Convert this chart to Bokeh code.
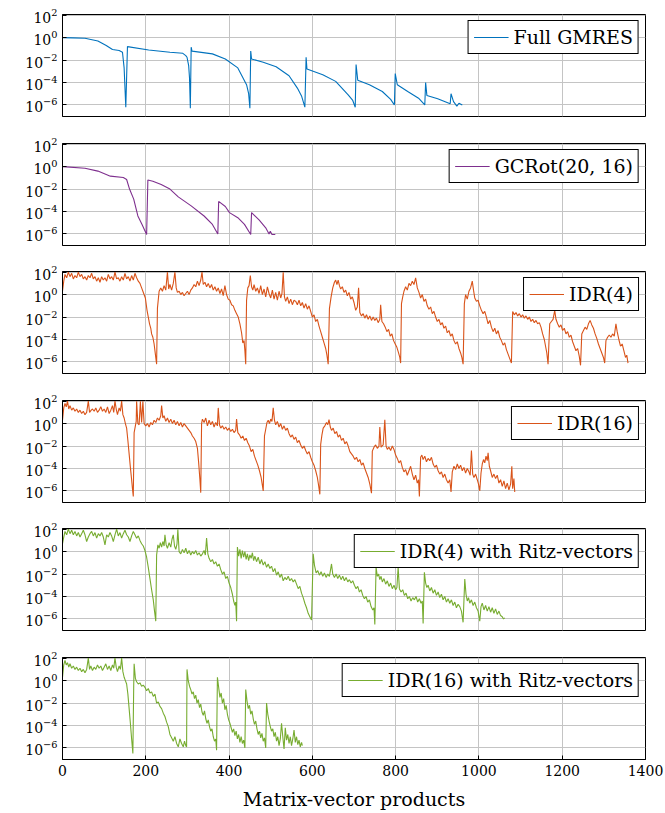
from bokeh.plotting import figure
from bokeh.models import Range1d, FixedTicker
from bokeh.layouts import column
from bokeh.embed import file_html
from bokeh.resources import INLINE

# ---------------- data (x = matrix-vector products, value = log10 of residual) ----------------
X_TICKS = [0, 200, 400, 600, 800, 1000, 1200, 1400]
Y_TICKS = [1e-6, 1e-4, 1e-2, 1e0, 1e2]

LABELS = ["Full GMRES", "GCRot(20, 16)", "IDR(4)", "IDR(16)",
          "IDR(4) with Ritz-vectors", "IDR(16) with Ritz-vectors"]
COLORS = ["#0072BD", "#7E2F8E", "#D95319", "#D95319", "#77AC30", "#77AC30"]

gmres = [(0, 0.0), (25, -0.02), (54, -0.06), (85, -0.3), (105, -0.7), (120, -1.06), (136, -1.15), (144, -1.3), (148, -2.7), (152, -6.2),
         (156, -0.8), (207, -1.1), (258, -1.3), (289, -1.4), (296, -1.6), (299, -1.75), (303, -2.5), (305, -3.6), (307, -6.3),
         (309, -0.85), (311, -1.2), (360, -1.45), (391, -1.9), (421, -2.7), (442, -4.2), (447, -5.0), (450, -6.3),
         (452, -1.2), (454, -1.9), (482, -2.2), (513, -2.6), (544, -3.4), (564, -4.5), (574, -5.2), (582, -6.2),
         (585, -1.75), (587, -2.8), (625, -3.3), (656, -3.9), (686, -5.1), (697, -5.6), (703, -6.2),
         (705, -2.4), (709, -3.8), (737, -4.2), (768, -4.8), (788, -5.5), (797, -6.0),
         (799, -3.2), (804, -4.2), (829, -4.8), (855, -5.4), (870, -6.0),
         (872, -4.0), (875, -5.15), (901, -5.45), (931, -5.9),
         (933, -5.0), (939, -5.7), (947, -6.1), (952, -5.85), (960, -6.0)]

gcrot = [(0, 0.0), (54, -0.15), (85, -0.4), (115, -0.85), (146, -0.97), (154, -1.15), (161, -2.0), (171, -2.9), (181, -4.4), (191, -5.15), (202, -6.05),
         (205, -1.2), (217, -1.3), (237, -1.6), (258, -2.0), (278, -2.7), (309, -3.5), (340, -4.4), (360, -5.15), (373, -6.0),
         (375, -3.1), (391, -3.55), (401, -4.1), (421, -4.55), (437, -5.15), (452, -6.05),
         (454, -4.1), (472, -4.75), (488, -5.45), (496, -6.0), (499, -5.75), (503, -6.05), (511, -6.05)]

idr4 = [(0, 0.3), (3, 1.2), (6, 1.8), (10, 1.5), (14, 2.0), (18, 1.6), (22, 1.9), (26, 1.4), (30, 1.7), (34, 1.5), (38, 2.0), (42, 1.6),
        (46, 1.8), (50, 1.4), (54, 1.6), (58, 1.3), (62, 1.7), (66, 1.5), (70, 1.9), (74, 1.4), (78, 1.6), (82, 1.2), (86, 1.5), (90, 1.1),
        (94, 1.6), (98, 1.3), (102, 1.5), (106, 1.2), (110, 1.8), (114, 1.4), (118, 1.6), (122, 1.3), (126, 2.0), (130, 1.4), (134, 1.5),
        (138, 1.2), (142, 1.6), (146, 1.3), (150, 1.9), (154, 1.4), (158, 1.6), (162, 1.2), (166, 1.7), (170, 1.3), (174, 1.9), (178, 1.5),
        (182, 1.2), (186, 1.0), (190, 0.6), (193, 0.3), (197, -0.1), (199, -0.3), (203, -1.4), (206, -2.0), (209, -2.6), (212, -3.0),
        (214, -3.5), (217, -3.8), (220, -4.4), (223, -5.3), (226, -6.2),
        (228, -1.2), (232, 0.3), (236, 0.6), (240, 0.3), (244, 0.8), (248, 0.4), (252, 2.0), (255, 0.5), (258, 0.9), (262, 0.4), (266, 1.0),
        (270, 2.0), (273, 0.6), (276, 0.2), (280, 0.3), (284, 0.0), (288, 0.2), (292, -0.1), (296, 0.1), (300, 0.3), (304, 0.0), (308, 0.4),
        (312, 0.6), (316, 0.9), (320, 0.7), (324, 1.2), (328, 0.8), (332, 1.3), (335, 2.0), (338, 0.9), (342, 1.1), (346, 0.7), (350, 1.0),
        (354, 0.6), (358, 0.9), (362, 0.4), (366, 0.7), (370, 0.3), (374, 0.6), (378, 0.1), (382, 0.5), (386, -0.1), (390, 0.8), (394, 0.0),
        (398, -0.4), (402, -0.5), (406, -0.9), (410, -1.0), (414, -1.4), (418, -1.7), (422, -2.0), (426, -2.6), (430, -3.4), (433, -4.3),
        (436, -4.1), (438, -5.0), (440, -6.2),
        (442, -0.5), (445, 0.6), (448, 0.8), (451, 1.7), (454, 0.7), (457, 0.4), (460, 0.9), (464, 0.3), (468, 0.6), (472, 0.1), (476, 0.8),
        (480, 0.0), (484, 0.5), (488, -0.2), (492, 0.7), (496, 0.1), (500, -0.3), (504, 0.4), (508, -0.4), (512, 0.2), (516, -0.5), (520, 0.3),
        (524, -0.3), (527, 0.1), (530, 2.0), (533, -0.2), (536, -0.6), (540, -0.2), (544, -0.8), (548, -0.4), (552, -0.9), (556, -0.5),
        (560, -0.6), (564, -0.9), (568, -0.5), (572, -1.0), (576, -0.7), (580, -1.2), (584, -0.8), (588, -1.3), (592, -1.0), (596, -1.5),
        (600, -2.0), (604, -1.8), (608, -2.4), (612, -2.2), (616, -2.8), (620, -3.3), (624, -3.8), (628, -4.3), (632, -4.8), (635, -5.4),
        (638, -6.2),
        (641, -1.25), (645, -0.2), (649, 0.6), (653, 1.1), (656, 1.3), (659, 0.9), (662, 1.3), (665, 0.8), (668, 0.5), (672, 0.7), (676, 0.2),
        (680, 0.4), (684, -0.1), (688, 0.2), (692, -0.4), (696, -0.2), (700, -0.7), (704, -1.4), (708, -1.1), (711, 0.6), (714, -1.6),
        (718, -1.9), (722, -1.7), (726, -2.1), (730, -1.8), (734, -2.2), (738, -1.9), (742, -2.3), (746, -2.0), (750, -2.3), (754, -2.1),
        (758, -2.5), (762, -2.2), (764, -0.9), (767, -2.4), (771, -2.6), (775, -2.9), (779, -3.3), (783, -3.1), (787, -3.7), (791, -3.5),
        (795, -4.1), (799, -4.4), (803, -4.7), (807, -5.2), (810, -5.6), (812, -6.1),
        (814, -0.8), (817, -0.2), (820, 0.3), (824, 0.7), (828, 0.4), (832, 1.0), (836, 0.8), (840, 1.2), (844, 0.9), (848, 1.5), (852, 0.6),
        (856, 0.2), (860, -0.3), (864, 0.0), (868, -0.6), (872, -0.4), (876, -1.0), (880, -1.3), (884, -1.1), (888, -1.7), (892, -1.5),
        (896, -2.0), (900, -2.4), (904, -2.2), (908, -2.7), (912, -2.5), (916, -3.0), (920, -2.8), (924, -3.4), (928, -3.2), (932, -3.7),
        (936, -3.5), (940, -4.1), (944, -4.4), (948, -4.2), (952, -4.8), (956, -5.2), (959, -5.6), (962, -6.2),
        (965, -0.8), (968, 0.0), (972, -0.4), (976, 0.3), (980, 0.6), (984, 1.2), (987, 0.4), (990, -0.3), (994, -0.6), (998, -0.5),
        (1002, -1.0), (1006, -1.4), (1010, -1.7), (1014, -1.5), (1018, -2.0), (1022, -2.6), (1026, -2.3), (1030, -2.9), (1034, -3.3),
        (1038, -3.0), (1042, -3.5), (1046, -3.2), (1050, -3.8), (1054, -4.1), (1058, -4.5), (1062, -4.3), (1066, -4.9), (1070, -5.3),
        (1074, -5.7), (1078, -6.1),
        (1081, -1.5), (1085, -1.8), (1089, -1.6), (1093, -1.9), (1097, -1.7), (1101, -2.0), (1105, -1.8), (1109, -2.1), (1113, -1.9),
        (1117, -2.2), (1121, -2.0), (1125, -2.4), (1129, -2.2), (1133, -2.5), (1137, -2.3), (1141, -2.6), (1145, -2.5), (1149, -2.9),
        (1153, -3.5), (1157, -4.0), (1160, -4.6), (1163, -5.2), (1166, -6.2),
        (1170, -2.6), (1174, -2.4), (1178, -2.2), (1182, -1.4), (1185, -2.2), (1189, -2.6), (1193, -2.9), (1197, -2.7), (1201, -3.2),
        (1205, -3.0), (1209, -3.5), (1213, -3.3), (1217, -3.8), (1221, -3.6), (1225, -4.2), (1229, -4.6), (1233, -5.0), (1237, -4.8),
        (1241, -5.5), (1244, -6.3),
        (1247, -3.5), (1251, -3.2), (1255, -2.9), (1259, -3.1), (1263, -2.6), (1267, -2.3), (1271, -2.7), (1275, -3.0), (1279, -3.5),
        (1283, -3.9), (1287, -4.4), (1291, -4.8), (1295, -5.2), (1299, -5.6), (1302, -6.1),
        (1305, -4.1), (1309, -3.8), (1313, -3.6), (1317, -3.8), (1321, -3.5), (1325, -3.7), (1329, -2.6), (1332, -3.3), (1336, -4.0),
        (1340, -4.6), (1344, -4.4), (1348, -5.0), (1352, -5.6), (1355, -5.4), (1358, -6.1)]

idr16 = [(0, 0.3), (3, 1.4), (6, 1.8), (9, 1.5), (12, 2.0), (15, 1.3), (18, 1.6), (22, 1.2), (26, 1.4), (30, 1.1), (34, 1.3), (38, 1.0),
         (42, 1.2), (46, 0.9), (50, 1.1), (54, 0.8), (58, 1.0), (62, 2.0), (65, 1.0), (69, 1.2), (72, 1.3), (76, 1.1), (80, 1.4), (84, 1.0),
         (88, 1.2), (92, 1.5), (96, 1.1), (100, 1.3), (104, 1.0), (108, 1.5), (112, 0.9), (116, 1.2), (120, 1.6), (123, 1.0), (126, 2.0),
         (129, 1.3), (132, 0.8), (136, 1.4), (139, 1.1), (142, 2.0), (145, 0.8), (148, 0.5), (151, 0.0), (154, -0.4), (157, -1.5),
         (160, -2.7), (163, -3.9), (166, -5.0), (168, -5.8), (170, -6.5),
         (172, -0.8), (175, -0.2), (177, 0.2), (178, 2.0), (181, 0.0), (184, -0.1), (187, 2.0), (190, 0.1), (193, 2.0), (196, 0.0),
         (200, -0.2), (204, 0.0), (208, -0.3), (212, 0.1), (216, -0.1), (220, 0.3), (224, 0.1), (228, 0.5), (232, 0.3), (236, 0.7),
         (238, 1.6), (241, 0.5), (244, 0.7), (248, 0.2), (252, 0.5), (256, 0.1), (260, 0.4), (264, 0.0), (268, 0.3), (272, -0.1),
         (276, 0.2), (280, -0.2), (284, 0.1), (288, -0.3), (292, 0.0), (296, -0.2), (300, -0.4), (304, -0.6), (308, -0.8), (312, -1.1),
         (316, -1.3), (320, -1.6), (324, -2.2), (327, -3.5), (330, -5.0), (332, -6.15),
         (334, 0.0), (336, 0.4), (340, 0.1), (344, 0.5), (348, -0.2), (352, 0.3), (356, -0.1), (360, 0.2), (364, -0.3), (368, 0.1),
         (372, -0.2), (374, 1.4), (377, -0.1), (380, -0.4), (384, -0.2), (388, -0.5), (392, -0.3), (396, -0.6), (400, -0.4), (404, -0.7),
         (408, -0.5), (412, -0.8), (416, -0.6), (418, 0.4), (421, -0.8), (425, -1.0), (429, -1.3), (433, -1.1), (437, -1.5), (441, -1.3),
         (445, -1.7), (449, -2.0), (453, -2.5), (457, -2.3), (461, -2.9), (465, -3.3), (469, -3.7), (473, -4.2), (477, -4.8), (480, -5.5),
         (482, -6.0),
         (485, -1.1), (488, -0.5), (491, 0.1), (494, 0.3), (497, 0.0), (500, 0.4), (503, 0.2), (506, 1.4), (509, 0.3), (512, -0.1),
         (516, 0.2), (520, -0.3), (524, 0.0), (528, -0.5), (532, -0.2), (536, -0.6), (540, -0.4), (544, -0.9), (548, -1.2), (552, -1.0),
         (556, -1.4), (560, -1.2), (564, -1.7), (568, -1.5), (572, -1.9), (576, -2.2), (580, -2.0), (584, -2.4), (588, -2.7), (592, -2.5),
         (596, -3.0), (600, -3.4), (604, -3.7), (608, -4.2), (612, -4.8), (615, -5.5), (618, -6.3),
         (620, -1.85), (623, -1.0), (626, -0.4), (630, -0.2), (634, 0.1), (637, -0.1), (640, 0.35), (643, -0.3), (646, -0.6), (650, -0.4),
         (654, -0.9), (658, -0.7), (662, -1.2), (666, -1.0), (670, -1.5), (674, -1.3), (678, -1.8), (682, -1.6), (686, -2.0), (690, -2.5),
         (694, -2.7), (698, -2.9), (702, -3.2), (706, -3.0), (710, -3.4), (714, -3.2), (718, -3.7), (722, -3.5), (726, -4.0), (730, -4.4),
         (734, -4.8), (738, -5.4), (742, -6.2),
         (744, -2.45), (748, -2.1), (752, -1.9), (756, -2.2), (760, -2.0), (762, -0.3), (765, -2.1), (770, -1.9), (774, 0.35), (777, -2.0),
         (780, -2.3), (784, -2.1), (788, -2.4), (792, -2.0), (796, -2.3), (800, -2.8), (804, -3.1), (808, -3.5), (812, -3.3), (816, -3.9),
         (820, -4.3), (824, -4.1), (828, -4.6), (832, -4.2), (836, -3.8), (840, -4.5), (844, -5.0), (848, -4.6), (852, -5.3), (855, -5.0),
         (857, -6.5),
         (860, -3.0), (863, -2.8), (866, -3.2), (870, -2.9), (874, -3.4), (878, -3.1), (882, -3.3), (886, -3.0), (890, -3.6), (894, -3.9),
         (898, -3.7), (902, -4.2), (906, -4.5), (910, -4.3), (914, -4.8), (918, -4.5), (922, -5.0), (926, -5.3), (930, -5.0), (933, -6.1),
         (936, -4.3), (940, -3.8), (944, -4.1), (948, -3.6), (952, -4.0), (956, -3.7), (960, -4.2), (964, -3.9), (968, -4.4), (972, -4.0),
         (976, -4.3), (979, -4.6), (982, -2.4), (985, -4.5), (988, -4.8), (992, -4.5), (996, -5.0), (999, -5.4), (1002, -6.0),
         (1005, -4.4), (1008, -3.6), (1011, -3.2), (1014, -3.5), (1017, -2.9), (1020, -3.3), (1022, -2.6), (1025, -3.8), (1028, -4.2),
         (1032, -4.8), (1036, -4.5), (1040, -4.9), (1044, -4.6), (1048, -5.3), (1052, -5.0), (1056, -5.6), (1060, -5.1), (1064, -5.8),
         (1068, -5.3), (1072, -5.9), (1076, -5.4), (1079, -3.8), (1081, -5.8), (1084, -4.9), (1086, -6.1)]

idr4_ritz = [(0, 0.7), (3, 1.3), (6, 1.8), (10, 1.5), (14, 2.0), (18, 1.6), (22, 1.9), (26, 1.5), (30, 1.8), (34, 1.4), (38, 1.7),
             (42, 1.3), (46, 1.6), (50, 1.9), (54, 1.5), (58, 0.9), (62, 1.3), (66, 1.6), (70, 1.8), (74, 1.4), (78, 1.7), (82, 1.2),
             (86, 1.6), (90, 1.4), (94, 1.7), (98, 1.3), (102, 0.6), (106, 1.5), (110, 1.3), (114, 1.7), (118, 1.4), (122, 0.9), (126, 1.5),
             (130, 2.0), (134, 1.4), (138, 1.7), (142, 1.2), (146, 1.6), (150, 1.9), (154, 1.5), (158, 1.3), (162, 0.9), (166, 1.4),
             (170, 1.8), (174, 1.5), (178, 1.2), (182, 1.4), (186, 1.0), (190, 0.7), (194, 0.5), (198, 0.1), (202, -0.5), (206, -1.4),
             (210, -2.4), (214, -3.4), (218, -4.3), (221, -5.3), (224, -6.2),
             (226, -0.3), (229, 0.6), (232, 0.3), (235, 0.8), (238, 0.4), (241, 0.9), (244, 0.5), (246, 1.5), (249, 0.6), (252, 0.3),
             (256, 0.8), (260, 0.4), (263, 1.1), (266, 1.5), (269, 0.5), (272, 0.2), (275, 0.7), (277, 2.0), (280, 0.0), (284, -0.2),
             (288, 0.2), (292, -0.1), (296, 0.3), (300, -0.2), (304, 0.1), (308, -0.3), (312, 0.0), (316, -0.2), (320, 0.1), (324, -0.3),
             (328, -0.1), (332, -0.4), (336, -0.2), (340, 0.1), (343, -0.3), (346, 1.2), (349, -0.2), (352, -0.6), (356, -0.9), (360, -0.7),
             (364, -1.1), (368, -0.9), (372, -1.3), (376, -1.1), (380, -1.6), (384, -2.0), (388, -1.8), (392, -2.4), (396, -2.2), (400, -2.8),
             (404, -3.2), (408, -3.8), (411, -4.4), (414, -4.8), (416, -4.5), (418, -6.2),
             (420, 0.4), (423, -0.4), (426, 0.2), (429, -0.6), (432, 0.1), (435, -0.5), (438, 0.0), (441, -0.7), (444, -0.2), (447, -0.8),
             (450, -0.3), (453, -0.6), (456, -0.1), (459, -0.8), (462, -0.4), (466, -0.9), (470, -0.5), (474, -1.1), (478, -0.7), (482, -1.2),
             (486, -0.9), (490, -1.4), (494, -1.1), (498, -1.5), (502, -1.3), (506, -1.8), (510, -1.5), (514, -2.1), (518, -1.8), (522, -2.3),
             (526, -2.0), (530, -2.6), (534, -2.3), (538, -2.5), (542, -2.2), (546, -2.6), (550, -2.4), (554, -2.7), (558, -2.5), (562, -2.9),
             (566, -3.3), (570, -3.1), (574, -3.7), (578, -4.1), (582, -4.6), (586, -5.0), (590, -5.5), (594, -5.8), (598, -6.1),
             (602, -0.2), (605, -1.2), (609, -1.9), (613, -1.7), (617, -2.1), (621, -1.8), (625, -2.2), (629, -1.9), (633, -2.3), (637, -2.0),
             (641, -2.2), (646, -1.1), (649, -2.0), (653, -2.3), (657, -2.0), (661, -2.4), (665, -2.1), (669, -2.5), (673, -2.2), (677, -2.6),
             (681, -2.3), (685, -2.7), (689, -2.5), (693, -2.8), (697, -2.6), (701, -3.0), (705, -3.3), (709, -3.1), (713, -3.6), (717, -3.4),
             (721, -3.9), (725, -4.2), (729, -4.0), (733, -4.5), (737, -4.3), (741, -4.9), (745, -5.2), (748, -5.0), (750, -6.5),
             (753, -1.4), (756, -2.2), (759, -2.0), (762, -2.5), (765, -2.2), (768, -2.7), (772, -2.4), (776, -2.9), (780, -2.6), (784, -3.1),
             (788, -2.8), (792, -3.3), (796, -3.0), (800, -3.4), (803, -3.2), (806, -1.4), (809, -3.3), (813, -3.6), (817, -3.4), (821, -3.9),
             (825, -3.7), (829, -4.2), (833, -4.0), (837, -4.4), (841, -4.1), (845, -4.3), (849, -4.0), (853, -4.5), (857, -4.2), (861, -4.6),
             (864, -4.4), (866, -6.4),
             (869, -1.85), (872, -2.8), (875, -3.2), (878, -3.0), (882, -3.5), (886, -3.2), (890, -3.7), (894, -3.4), (898, -3.9), (902, -3.6),
             (906, -4.1), (910, -3.8), (914, -4.3), (918, -4.0), (922, -4.5), (926, -4.2), (930, -4.6), (934, -4.3), (938, -4.8), (942, -4.5),
             (946, -5.0), (950, -4.7), (954, -4.9), (958, -5.3), (962, -6.3),
             (966, -2.45), (969, -3.8), (972, -4.4), (975, -4.1), (978, -4.6), (982, -4.3), (986, -4.8), (990, -4.5), (994, -5.0), (998, -5.3),
             (1002, -6.2), (1005, -4.9), (1008, -4.6), (1012, -5.2), (1016, -4.8), (1020, -5.3), (1024, -4.9), (1028, -5.4), (1032, -5.0),
             (1036, -5.5), (1040, -5.1), (1044, -5.6), (1048, -5.3), (1052, -5.7), (1056, -5.8), (1059, -6.0), (1062, -5.9)]

idr16_ritz = [(0, 0.3), (3, 1.4), (6, 1.8), (9, 1.4), (12, 1.6), (15, 1.2), (18, 1.5), (22, 1.1), (26, 1.3), (30, 1.0), (34, 1.2),
              (38, 0.9), (42, 1.1), (46, 0.8), (50, 1.0), (54, 0.7), (58, 1.0), (62, 2.0), (65, 1.0), (68, 1.3), (72, 0.9), (76, 1.2),
              (80, 1.0), (84, 1.4), (88, 1.1), (92, 1.3), (96, 0.9), (100, 1.2), (104, 1.5), (108, 1.0), (112, 1.3), (116, 0.9), (120, 1.4),
              (123, 1.1), (126, 2.0), (129, 1.2), (132, 0.8), (136, 1.3), (139, 1.0), (142, 2.0), (145, 0.8), (148, 0.3), (151, 0.0),
              (154, -0.3), (157, -1.2), (160, -2.5), (163, -3.8), (166, -5.2), (169, -6.5),
              (171, -0.5), (172, 1.5), (175, 0.2), (178, -0.1), (182, -0.3), (186, -0.2), (190, -0.5), (194, -0.4), (198, -0.6), (202, -0.9),
              (206, -0.7), (210, -1.1), (214, -1.0), (218, -1.4), (222, -1.2), (226, -2.0), (230, -1.9), (234, -2.3), (238, -2.5), (242, -2.9),
              (246, -3.2), (250, -3.7), (254, -4.1), (258, -4.8), (262, -5.1), (266, -5.4), (270, -5.0), (274, -5.6), (278, -5.9), (282, -5.2),
              (286, -5.6), (290, -5.9), (293, -5.4), (296, -5.8), (298, -5.9),
              (299, 1.0), (302, 0.0), (305, -0.5), (308, -0.8), (311, -1.2), (314, -1.0), (317, -1.6), (320, -1.3), (323, -2.0), (326, -1.7),
              (329, -2.4), (332, -2.1), (335, -2.8), (338, -3.1), (341, -2.7), (344, -3.4), (347, -3.8), (350, -3.5), (353, -4.1), (356, -4.5),
              (359, -4.3), (362, -5.0), (365, -5.4), (368, -5.2), (370, -6.2),
              (372, 0.3), (375, -0.6), (378, -1.5), (381, -1.1), (384, -2.0), (387, -1.6), (390, -2.6), (393, -2.2), (396, -3.0), (399, -3.5),
              (402, -3.8), (405, -4.2), (408, -4.6), (411, -4.3), (414, -4.9), (417, -4.5), (420, -5.2), (423, -4.8), (426, -5.5), (429, -5.0),
              (432, -5.6), (435, -5.3), (438, -6.0),
              (440, -0.8), (443, -1.8), (446, -2.5), (449, -2.2), (452, -3.0), (455, -2.7), (458, -3.4), (461, -3.9), (464, -3.6), (467, -4.3),
              (470, -4.8), (473, -4.5), (476, -5.1), (479, -4.7), (482, -5.4), (485, -5.1), (488, -6.0),
              (490, -2.0), (493, -3.0), (496, -3.6), (499, -4.1), (502, -4.5), (505, -4.3), (508, -5.0), (511, -4.6), (514, -5.4), (517, -5.0),
              (520, -5.8), (523, -5.2), (526, -3.8), (529, -5.0), (532, -6.1), (535, -4.2), (538, -5.3), (541, -4.8), (544, -5.6), (547, -5.0),
              (550, -5.8), (553, -5.2), (556, -4.4), (559, -5.5), (562, -5.0), (565, -5.7), (568, -5.3), (571, -5.9), (574, -5.5), (576, -5.8)]

SERIES = [gmres, gcrot, idr4, idr16, idr4_ritz, idr16_ritz]

# ---------------- styling ----------------
FONT = "DejaVu Serif"
FRAME_W, FRAME_H = 583, 102
TOPS = [14, 12, 12, 12, 12, 12]
BOTTOMS = [15, 14, 15, 14, 15, 52]


def make_panel(pairs, color, label, top, bottom, last=False):
    xs = [a for a, _ in pairs]
    ys = [10.0 ** b for _, b in pairs]
    p = figure(frame_width=FRAME_W, frame_height=FRAME_H,
               x_range=Range1d(0, 1400), y_range=Range1d(10 ** -7.03, 10 ** 2.06),
               y_axis_type="log", output_backend="svg", toolbar_location=None,
               min_border_left=62, min_border_right=20, min_border_top=top,
               min_border_bottom=bottom)
    p.line(xs, ys, line_color=color, line_width=1.1, legend_label=label)

    yt = FixedTicker(ticks=Y_TICKS)
    xt = FixedTicker(ticks=X_TICKS)
    p.yaxis.ticker = yt
    p.ygrid.ticker = yt
    p.xaxis.ticker = xt
    p.xgrid.ticker = xt

    p.grid.grid_line_color = "#c4c4c4"
    p.grid.grid_line_width = 1
    p.outline_line_color = "black"
    p.outline_line_width = 1
    p.outline_line_alpha = 1

    p.axis.axis_line_color = "black"
    p.axis.major_tick_in = 4
    p.axis.major_tick_out = 0
    p.axis.major_tick_line_color = "black"
    p.axis.minor_tick_line_color = None
    p.axis.major_label_text_font = FONT
    p.axis.major_label_text_font_size = "14px"
    p.axis.major_label_text_color = "black"
    p.yaxis.major_label_standoff = 5

    if last:
        p.xaxis.major_label_standoff = 5
        p.xaxis.axis_label = "Matrix-vector products"
        p.xaxis.axis_label_text_font = FONT
        p.xaxis.axis_label_text_font_size = "19px"
        p.xaxis.axis_label_text_font_style = "normal"
        p.xaxis.axis_label_text_color = "black"
        p.xaxis.axis_label_standoff = 9
    else:
        p.xaxis.visible = False

    lg = p.legend[0]
    lg.location = "top_right"
    lg.margin = 6
    lg.padding = 5
    lg.spacing = 0
    lg.glyph_width = 35
    lg.label_standoff = 5
    lg.border_line_color = "black"
    lg.border_line_width = 1
    lg.border_line_alpha = 1
    lg.background_fill_alpha = 1
    lg.label_text_font = FONT
    lg.label_text_font_size = "19px"
    lg.label_text_color = "black"
    return p


figs = []
for i in range(6):
    figs.append(make_panel(SERIES[i], COLORS[i], LABELS[i], TOPS[i], BOTTOMS[i], last=(i == 5)))

layout = column(*figs, spacing=0)
open("out.html", "w").write(file_html(layout, INLINE))
